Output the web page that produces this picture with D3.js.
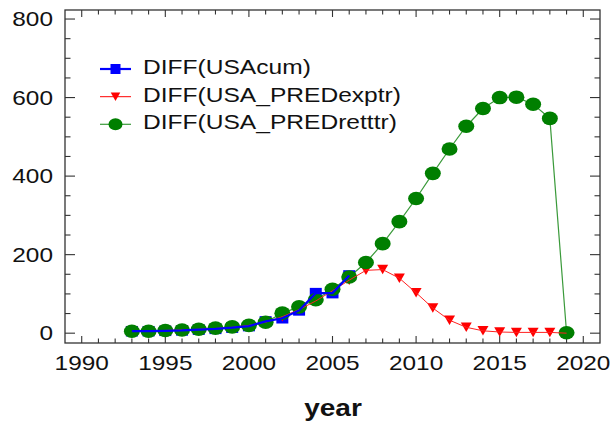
<!DOCTYPE html>
<html><head><meta charset="utf-8">
<script src="https://cdn.jsdelivr.net/npm/d3@7"></script>
<style>body{margin:0;background:#fff}svg{display:block}</style>
</head><body>
<script>
const yearsBlue = [1993,1994,1995,1996,1997,1998,1999,2000,2001,2002,2003,2004,2005,2006];
const usaCum = [5,5,6,7,9,11,14,18,30,38,58,102,102,147];
const years = [1993,1994,1995,1996,1997,1998,1999,2000,2001,2002,2003,2004,2005,2006,2007,2008,2009,2010,2011,2012,2013,2014,2015,2016,2017,2018,2019];
const predExptr = [5,6,7,8,10,12,15,20,28,42,60,82,108,135,160,162,140,103,64,33,15,6,3,2,2,2,0];
const predRetttr = [5,5,7,8,10,13,16,20,28,51,67,85,112,143,180,228,284,343,407,469,527,572,600,601,583,547,1];
const xTicks = [1990,1995,2000,2005,2010,2015,2020];
const yTicks = [0,200,400,600,800];
const legendLabels = ["DIFF(USAcum)","DIFF(USA_PREDexptr)","DIFF(USA_PREDretttr)"];

const W=611,H=423, L=65,R=600,T=10,B=343;
const font='"Liberation Sans", Arial, sans-serif';
const svg=d3.select("body").append("svg").attr("width",W).attr("height",H);
const x=d3.scaleLinear().domain([1989,2021]).range([L,R]);
const y=d3.scaleLinear().domain([-25,823]).range([B,T]);

function txt(xp,yp,s,anchor,size,weight,sx){
  return svg.append("text").attr("transform",`translate(${xp},${yp}) scale(${sx||1.22},1)`)
    .attr("text-anchor",anchor).attr("font-family",font).attr("font-size",size)
    .attr("font-weight",weight||"normal").attr("fill","#111").text(s);
}

// frame
svg.append("rect").attr("x",L).attr("y",T).attr("width",R-L).attr("height",B-T)
  .attr("fill","none").attr("stroke","#333").attr("stroke-width",1.3);

const ax=svg.append("g").attr("stroke","#333").attr("stroke-width",1.1);
d3.range(1990,2021,1).forEach(v=>{
  const major=v%5===0; const len=major?7:4.5;
  ax.append("line").attr("x1",x(v)).attr("x2",x(v)).attr("y1",B).attr("y2",B-len);
  ax.append("line").attr("x1",x(v)).attr("x2",x(v)).attr("y1",T).attr("y2",T+len);
});
d3.range(0,801,50).forEach(v=>{
  const major=v%200===0; const len=major?10:5.5;
  ax.append("line").attr("x1",L).attr("x2",L+len).attr("y1",y(v)).attr("y2",y(v));
  ax.append("line").attr("x1",R).attr("x2",R-len).attr("y1",y(v)).attr("y2",y(v));
});
xTicks.forEach(v=>txt(x(v),370,v,"middle","20px"));
yTicks.forEach(v=>txt(53,y(v)+7,v,"end","20px"));
txt(333,416,"year","middle","23px","bold");

const line=d3.line();
// green line under markers
svg.append("path").attr("d",line(years.map((yr,i)=>[x(yr),y(predRetttr[i])])))
  .attr("fill","none").attr("stroke","#3a9a3a").attr("stroke-width",1.2);

const gm=svg.append("g");
const sqW=12, sqH=10.5;
yearsBlue.forEach((yr,i)=>{
  gm.append("rect").attr("x",x(yr)-sqW/2).attr("y",y(usaCum[i])-sqH/2).attr("width",sqW).attr("height",sqH).attr("fill","#0000ff");
});
function tri(cx,cy,w,h){return `M${cx-w/2},${cy-h/2}L${cx+w/2},${cy-h/2}L${cx},${cy+h/2}Z`;}
years.forEach((yr,i)=>{
  gm.append("path").attr("d",tri(x(yr),y(predExptr[i]),11,9.5)).attr("fill","#ff0000");
});
years.forEach((yr,i)=>{
  gm.append("ellipse").attr("cx",x(yr)).attr("cy",y(predRetttr[i])).attr("rx",8).attr("ry",6.8).attr("fill","#007f00");
});

svg.append("path").attr("d",line(years.map((yr,i)=>[x(yr),y(predExptr[i])])))
  .attr("fill","none").attr("stroke","#ff2020").attr("stroke-width",1);
svg.append("path").attr("d",line(yearsBlue.map((yr,i)=>[x(yr),y(usaCum[i])])))
  .attr("fill","none").attr("stroke","#0000ff").attr("stroke-width",2.2);

// legend
const legY=[69,96.7,124.3];
const lg=svg.append("g");
const lcol=["#0000ff","#ff0000","#3a9a3a"];
const lw=[2.2,1,1.2];
legY.forEach((ly,i)=>{
  lg.append("line").attr("x1",100).attr("x2",131).attr("y1",ly).attr("y2",ly).attr("stroke",lcol[i]).attr("stroke-width",lw[i]);
  if(i===0) lg.append("rect").attr("x",110.5).attr("y",ly-5).attr("width",10).attr("height",10).attr("fill","#0000ff");
  if(i===1) lg.append("path").attr("d",tri(115.5,ly,9.5,8.5)).attr("fill","#ff0000");
  if(i===2) lg.append("ellipse").attr("cx",115.5).attr("cy",ly).attr("rx",7).attr("ry",6).attr("fill","#007f00");
  txt(143,ly+5,legendLabels[i],"start","19.5px","normal",1.26);
});
</script>
</body></html>
